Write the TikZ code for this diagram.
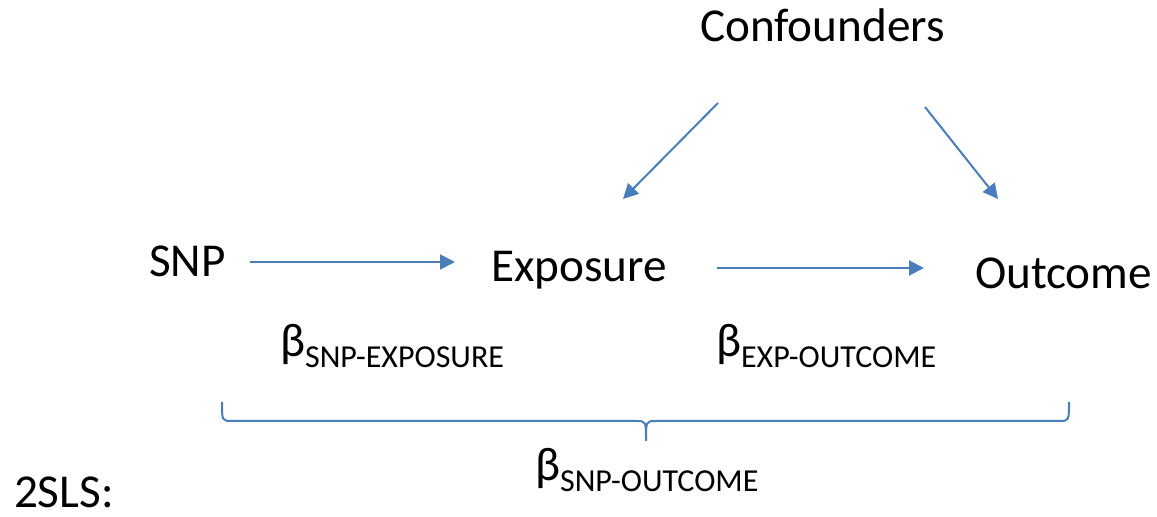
\documentclass[tikz,border=0pt]{standalone}
\usepackage{fontspec}
\setmainfont{Carlito}
\usetikzlibrary{calc,arrows.meta}
\definecolor{lineblue}{HTML}{4A7EBB}
\newcommand{\betasub}[1]{β{\fontsize{16}{17}\selectfont\raisebox{-5.5pt}{#1}}}
\tikzset{
  lbl/.style={inner sep=0pt, outer sep=0pt, anchor=base west, font=\fontsize{23.6}{28}\selectfont},
  arr/.style={draw=lineblue, line width=1pt, -{Triangle[length=7.5pt,width=7.5pt]}},
  bracepath/.style={draw=lineblue, line width=1pt}
}
\begin{document}
\begin{tikzpicture}[x=0.5pt,y=-0.5pt]
\useasboundingbox (0,0) rectangle (1157,517);
\node[lbl] (conf) at (700,42) {Confounders};
\node[lbl] (snp) at (149,277) {SNP};
\node[lbl] (exp) at (491,282) {Exposure};
\node[lbl] (out) at (975,289) {Outcome};
\node[lbl] (b1) at (280,357) {\betasub{SNP-EXPOSURE}};
\node[lbl] (b2) at (716,357) {\betasub{EXP-OUTCOME}};
\node[lbl] (b3) at (535,481) {\betasub{SNP-OUTCOME}};
\node[lbl] (tsls) at (14,508) {2SLS:};
\draw[arr] ($(snp.base west)+(101,-15)$) -- ($(exp.base west)+(-36,-20)$);
\draw[arr] ($(exp.base west)+(226,-14)$) -- ($(out.base west)+(-51,-21)$);
\draw[arr] ($(conf.base west)+(18,61)$) -- ($(exp.base west)+(132,-83)$);
\draw[arr] ($(conf.base west)+(225,65)$) -- ($(out.base west)+(23,-90)$);
\draw[bracepath] (222,402) .. controls (222,421) and (222,421) .. (232,421) -- (636,421)
  .. controls (646,421) and (646,421) .. (646,441)
  .. controls (646,421) and (646,421) .. (656,421) -- (1059,421)
  .. controls (1069,421) and (1069,421) .. (1069,402);
\end{tikzpicture}
\end{document}
